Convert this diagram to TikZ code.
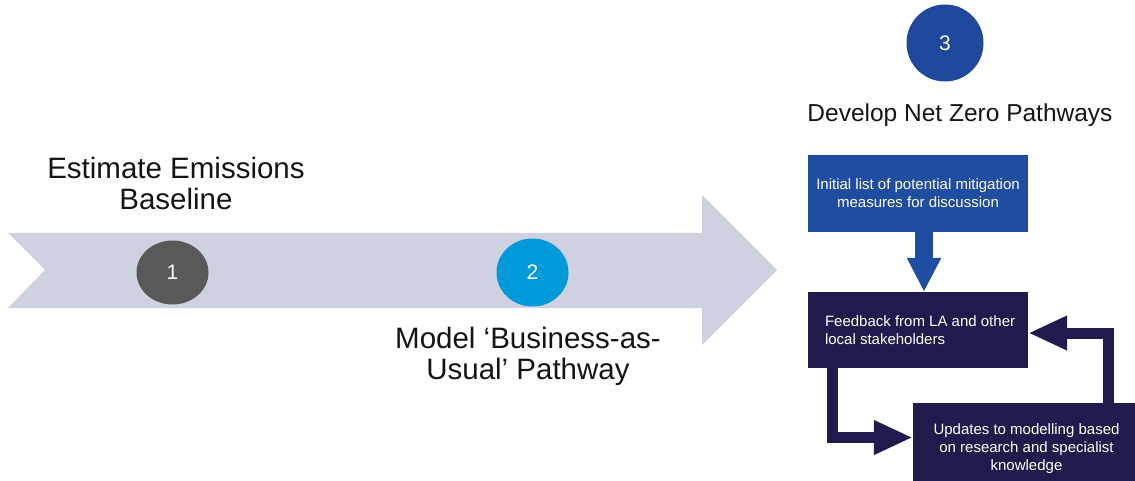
\documentclass[tikz,border=0pt]{standalone}
\usepackage{fontspec}
\setmainfont{Liberation Sans}
\usetikzlibrary{arrows.meta,shapes.geometric}
\definecolor{bandgray}{RGB}{205,209,224}
\definecolor{stepone}{RGB}{89,89,89}
\definecolor{steptwo}{RGB}{0,153,218}
\definecolor{stepthree}{RGB}{31,73,157}
\definecolor{boxblue}{RGB}{31,78,160}
\definecolor{boxnavy}{RGB}{32,27,77}
\definecolor{labeltext}{RGB}{20,20,20}
\tikzset{
  numdisc/.style={ellipse, inner sep=0pt, text=white, font=\fontsize{21}{24}\selectfont},
  biglabel/.style={inner sep=0pt, align=center, text=labeltext, font=\fontsize{29.5}{31}\selectfont},
  flowbox/.style={rectangle, inner sep=0pt, text=white, font=\fontsize{15}{18}\selectfont},
  flowarrow/.style={draw=boxnavy, line width=11pt, -{Triangle[length=39pt,width=32pt]}}
}
\begin{document}
\begin{tikzpicture}[x=1pt,y=-1pt]
\useasboundingbox (0,0) rectangle (1135,481);
% big process arrow
\fill[bandgray] (8,233) -- (702,233) -- (702,195) -- (777,270) -- (702,345)
  -- (702,308) -- (8,308) -- (45,270) -- cycle;
% step discs
\node[numdisc, fill=stepone, minimum width=72pt, minimum height=64pt] (s1) at (172.5,272.5) {1};
\node[numdisc, fill=steptwo, minimum width=72pt, minimum height=68pt] (s2) at (532.5,272.5) {2};
\node[numdisc, fill=stepthree, minimum width=77pt, minimum height=77pt] (s3) at (945,43) {3};
% labels
\node[biglabel] (l1) at (176,183) {Estimate Emissions\\Baseline};
\node[biglabel] (l2) at (528,356) {Model ‘Business-as-\\Usual’ Pathway};
\node[biglabel, anchor=base, font=\fontsize{24.5}{28}\selectfont] (l3) at (960,122) {Develop Net Zero Pathways};
% boxes
\node[flowbox, fill=boxblue, minimum width=220pt, minimum height=77pt, align=center] (b1) at (918,193.5)
  {Initial list of potential mitigation\\measures for discussion};
\node[flowbox, fill=boxnavy, minimum width=220pt, minimum height=76pt] (b2) at (918,330)
  {\hspace*{14pt}\begin{minipage}{200pt}\raggedright Feedback from LA and other\\local stakeholders\end{minipage}};
\node[flowbox, fill=boxnavy, minimum width=227pt, minimum height=92pt, align=center] (b3) at (1026.5,449)
  {Updates to modelling based\\on research and specialist\\knowledge};
% connectors
\coordinate (dn) at (924,0);
\draw[draw=boxblue, line width=18pt, -{Triangle[length=34pt,width=32pt]}] (b1.south -| dn) -- (b2.north -| dn);
\coordinate (c1) at (832.5,437.5);
\draw[flowarrow] (b2.south -| c1) |- (b3.west |- c1);
\coordinate (c2) at (1108,333);
\draw[flowarrow] (b3.north -| c2) |- (b2.east |- c2);
\end{tikzpicture}
\end{document}
